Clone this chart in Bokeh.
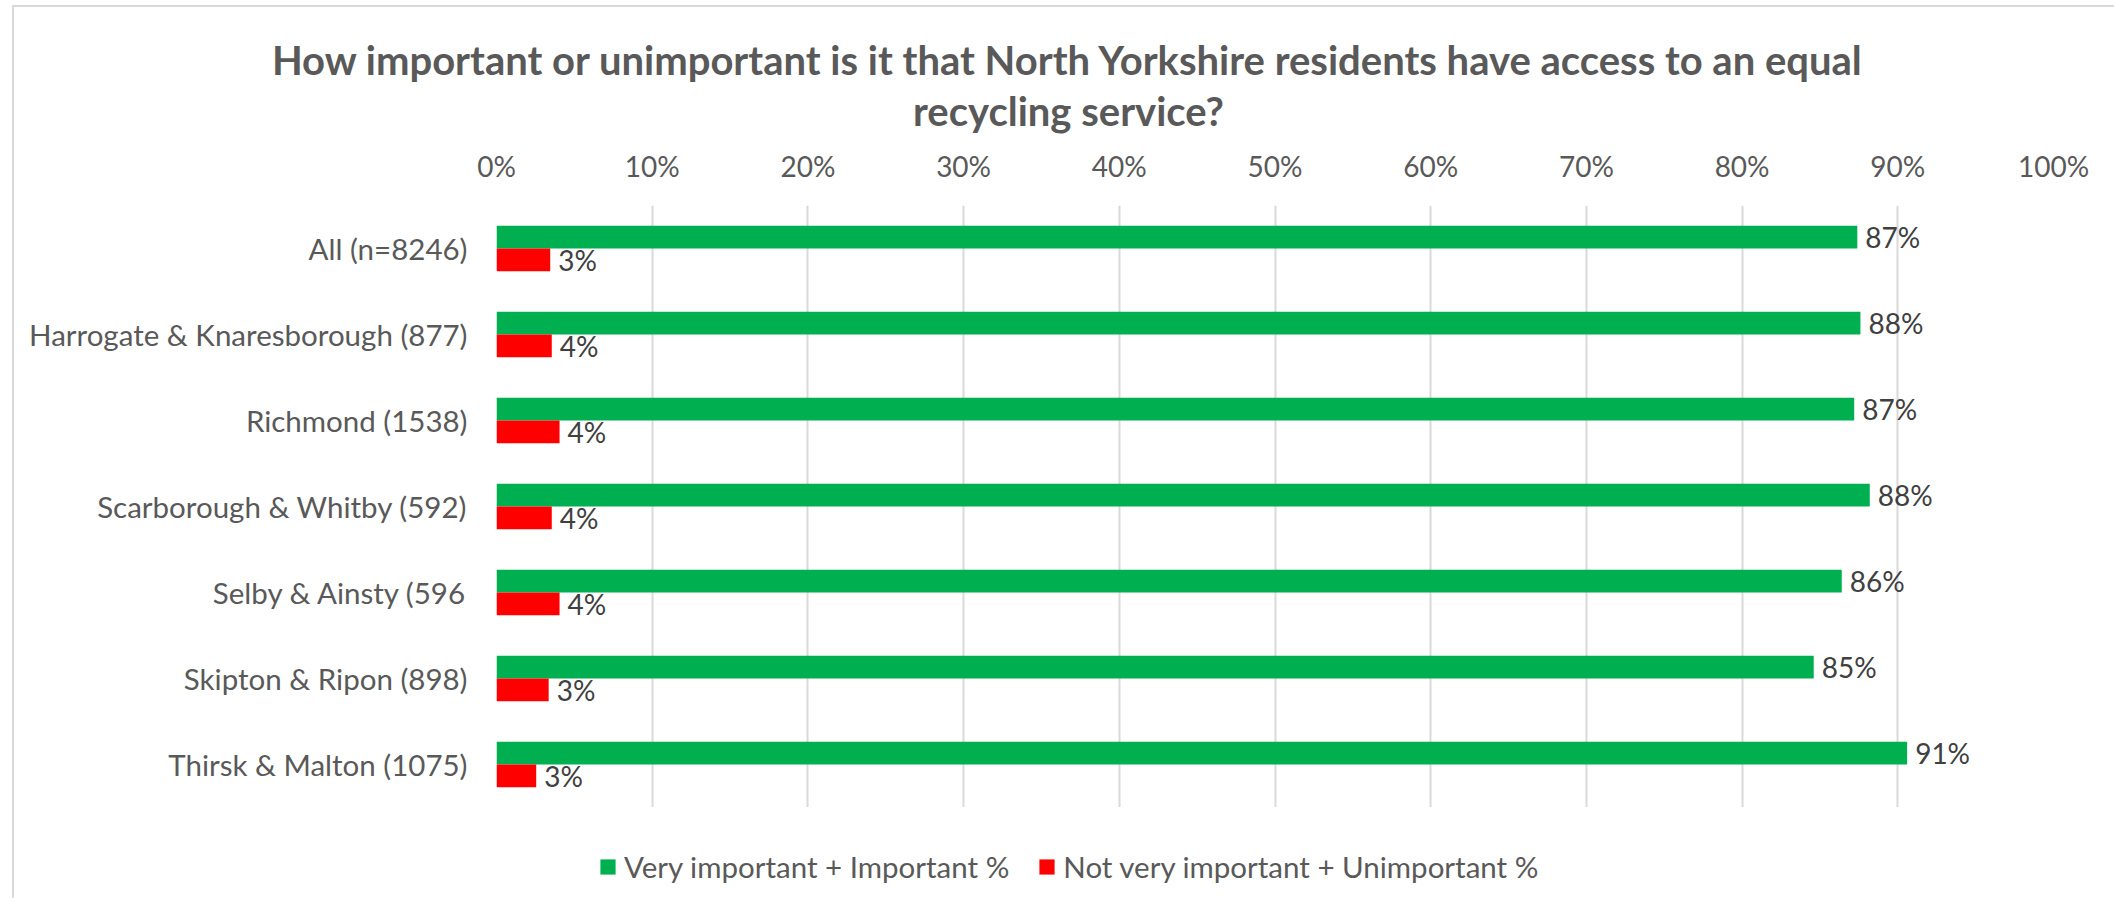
from bokeh.plotting import figure
from bokeh.layouts import column
from bokeh.models import (FactorRange, Range1d, FixedTicker, ColumnDataSource,
                          Legend, LegendItem)
from bokeh.transform import dodge
from bokeh.core.properties import value
from bokeh.embed import file_html
from bokeh.resources import INLINE

# ---- data ----
categories = ["All (n=8246)", "Harrogate & Knaresborough (877)", "Richmond (1538)",
              "Scarborough & Whitby (592)", "Selby & Ainsty (596", "Skipton & Ripon (898)",
              "Thirsk & Malton (1075)"]
important = [87.4, 87.6, 87.2, 88.2, 86.4, 84.6, 90.6]
unimportant = [3.45, 3.55, 4.05, 3.55, 4.05, 3.35, 2.55]
series_names = ["Very important + Important %", "Not very important + Unimportant %"]
x_ticks = [0, 10, 20, 30, 40, 50, 60, 70, 80, 90, 100]
x_tick_labels = ["0%", "10%", "20%", "30%", "40%", "50%", "60%", "70%", "80%", "90%", "100%"]
title_lines = ["How important or unimportant is it that North Yorkshire residents have access to an equal",
               "recycling service?"]

GREEN = "#00B050"
RED = "#FF0000"
FONT = "Lato"
W = 2100
H_TOP, H_MAIN, H_LEG = 133, 667, 91


def pct(v):
    return f"{int(v + 0.5)}%"


def blank(fig):
    fig.outline_line_color = None
    fig.background_fill_color = "white"
    fig.border_fill_color = "white"
    return fig


# ---- title strip ----
p0 = blank(figure(width=W, height=H_TOP, output_backend="svg", toolbar_location=None,
                  x_axis_type=None, y_axis_type=None, min_border=0, frame_align=False,
                  x_range=Range1d(0, W), y_range=Range1d(H_TOP, 0)))
p0.text(x=[1054, 1054], y=[52, 103], text=title_lines, text_align="center",
        text_baseline="alphabetic", text_font=value(FONT), text_font_style="bold",
        text_font_size="40px", text_color="#595959")

# ---- main chart ----
src = ColumnDataSource(dict(
    cat=categories,
    imp=important,
    unimp=unimportant,
    imp_lbl=[pct(v) for v in important],
    unimp_lbl=[pct(v) for v in unimportant],
))

p = blank(figure(width=W, height=H_MAIN, output_backend="svg", toolbar_location=None,
                 y_range=FactorRange(factors=list(reversed(categories)), range_padding=0),
                 x_range=Range1d(0, 100), x_axis_location="above", frame_align=False,
                 min_border_left=482, min_border_right=61, min_border_top=65,
                 min_border_bottom=0))

bh = 0.264
r1 = p.hbar(y=dodge("cat", bh / 2, range=p.y_range), left=0, right="imp", height=bh,
            source=src, fill_color=GREEN, line_color=None)
r2 = p.hbar(y=dodge("cat", -bh / 2, range=p.y_range), left=0, right="unimp", height=bh,
            source=src, fill_color=RED, line_color=None)

p.text(x="imp", y=dodge("cat", bh / 2, range=p.y_range), text="imp_lbl", source=src,
       x_offset=8, text_align="left", text_baseline="middle",
       text_font=value(FONT), text_font_size="28px", text_color="#404040")
p.text(x="unimp", y=dodge("cat", -bh / 2, range=p.y_range), text="unimp_lbl", source=src,
       x_offset=8, text_align="left", text_baseline="middle",
       text_font=value(FONT), text_font_size="28px", text_color="#404040")

xa = p.xaxis[0]
xa.ticker = FixedTicker(ticks=x_ticks)
xa.major_label_overrides = {t: l for t, l in zip(x_ticks, x_tick_labels)}
xa.axis_line_color = None
xa.major_tick_line_color = None
xa.minor_tick_line_color = None
xa.major_tick_out = 0
xa.major_tick_in = 0
xa.major_label_standoff = 23
xa.major_label_text_font = FONT
xa.major_label_text_font_size = "28px"
xa.major_label_text_color = "#595959"

ya = p.yaxis[0]
ya.axis_line_color = None
ya.major_tick_line_color = None
ya.minor_tick_line_color = None
ya.major_tick_out = 0
ya.major_tick_in = 0
ya.major_label_standoff = 29
ya.major_label_text_font = FONT
ya.major_label_text_font_size = "29.5px"
ya.major_label_text_color = "#595959"

p.xgrid.grid_line_color = "#d9d9d9"
p.xgrid.grid_line_width = 2
p.ygrid.grid_line_color = None

# ---- legend strip (proxy glyphs share the series colours) ----
nan = float("nan")
p2 = blank(figure(width=W, height=H_LEG, output_backend="svg", toolbar_location=None,
                  x_axis_type=None, y_axis_type=None, min_border=0, frame_align=False,
                  x_range=Range1d(0, 1), y_range=Range1d(0, 1)))
lg1 = p2.hbar(y=[nan], left=[nan], right=[nan], height=0.5, fill_color=GREEN, line_color=None)
lg2 = p2.hbar(y=[nan], left=[nan], right=[nan], height=0.5, fill_color=RED, line_color=None)
legend = Legend(items=[LegendItem(label=series_names[0], renderers=[lg1]),
                       LegendItem(label=series_names[1], renderers=[lg2])],
                orientation="horizontal", location=(584, 14),
                label_text_font=FONT, label_text_font_size="29.5px", label_text_color="#595959",
                glyph_width=19, glyph_height=19, label_standoff=7, spacing=28,
                padding=0, margin=0, border_line_color=None, background_fill_alpha=0)
p2.add_layout(legend, "center")

layout = column(p0, p, p2, spacing=0,
                styles={"margin-left": "12px", "margin-top": "5px",
                        "border-left": "2px solid #d9d9d9", "border-top": "2px solid #d9d9d9"})
open("out.html", "w").write(file_html(layout, INLINE))
